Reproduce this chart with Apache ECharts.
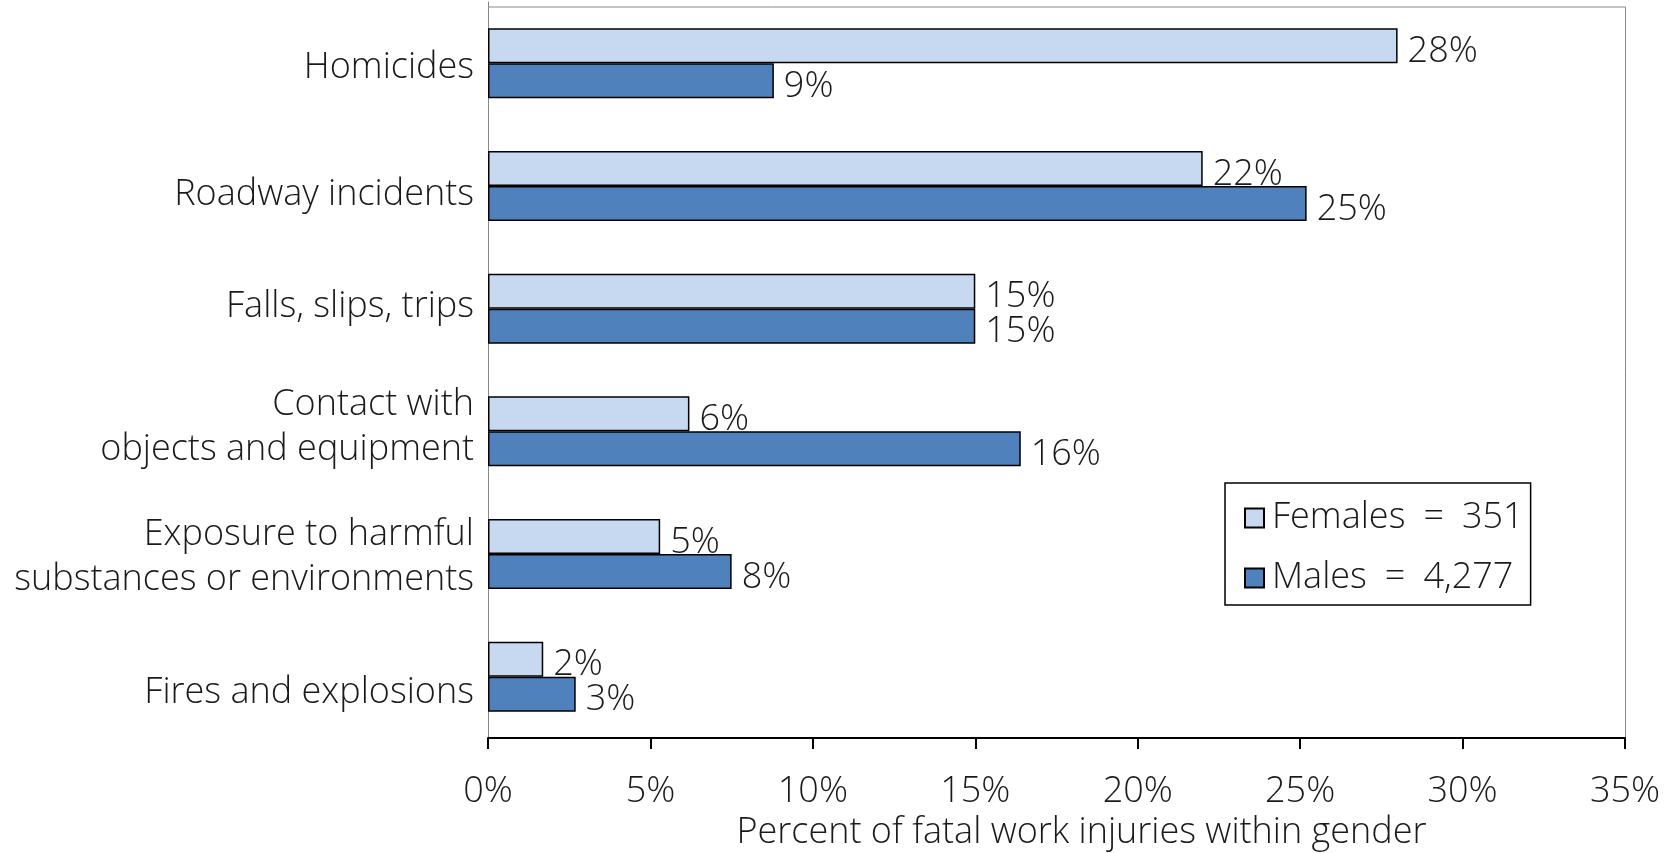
<!DOCTYPE html>
<html>
<head>
<meta charset="utf-8">
<script src="https://cdn.jsdelivr.net/npm/echarts@6/dist/echarts.min.js"></script>
<style>
html,body{margin:0;padding:0;background:#fff;}
#chart{width:1674px;height:853px;}
</style>
</head>
<body>
<div id="chart"></div>
<script>
const categories = [
  "Homicides",
  "Roadway incidents",
  "Falls, slips, trips",
  "Contact with\nobjects and equipment",
  "Exposure to harmful\nsubstances or environments",
  "Fires and explosions"
];
const females = [28.0, 22.0, 15.0, 6.2, 5.3, 1.7];
const males = [8.8, 25.2, 15.0, 16.4, 7.5, 2.7];
const seriesNames = ["Females = 351", "Males = 4,277"];
const xTicks = [0, 5, 10, 15, 20, 25, 30, 35];
const axisTitle = "Percent of fatal work injuries within gender";

const FONT = "'Open Sans', 'DejaVu Sans', sans-serif";
const TXT = "#1a1a1a";
const FS = 36;

// vertical nudges of the category labels (layout only, px; + = down)
const catLabelNudge = [4, 8.5, -2, -4, 3, 16];

const chart = echarts.init(document.getElementById('chart'), null, {renderer: 'canvas'});

const labelOpt = {
  show: true,
  position: 'right',
  distance: 10,
  offset: [0, 6],
  formatter: p => Math.round(p.value) + '%',
  fontFamily: FONT,
  fontWeight: 300,
  fontSize: FS,
  color: TXT
};

const baseTok = {fontFamily: FONT, fontWeight: 300, fontSize: FS, color: TXT, lineHeight: 45, align: 'right'};
const richCat = {m: Object.assign({}, baseTok)};
catLabelNudge.forEach((s, i) => {
  richCat['s' + i] = {fontSize: 1, lineHeight: Math.abs(s) * 2, align: 'right'};
});

function catFormatter(v, i) {
  const body = v.split('\n').map(ln => '{m|' + ln + '}').join('\n');
  const s = catLabelNudge[i];
  if (!s) return body;
  const spacer = '{s' + i + '| }';
  return s > 0 ? spacer + '\n' + body : body + '\n' + spacer;
}

chart.setOption({
  animation: false,
  backgroundColor: '#fff',
  grid: {
    left: 488, right: 49, top: 2, bottom: 115,
    show: false,
    containLabel: false,
    outerBoundsMode: 'none'
  },
  graphic: [{
    type: 'polyline',
    z: 0,
    shape: {points: [[488, 7], [1625.5, 7], [1625.5, 738]]},
    style: {stroke: '#888', lineWidth: 1, fill: null}
  }],
  legend: {
    orient: 'vertical',
    left: 1225, top: 483,
    backgroundColor: '#fff',
    borderColor: '#000',
    borderWidth: 1.5,
    padding: [15, 7, 7, 19],
    itemGap: 20,
    itemWidth: 19,
    itemHeight: 19,
    icon: 'rect',
    formatter: n => n.replace(' = ', '\u2002=\u2002'),
    textStyle: {fontFamily: FONT, fontWeight: 300, fontSize: FS, lineHeight: 40, color: TXT, padding: [0, 0, 0, 3]},
    data: seriesNames
  },
  xAxis: {
    type: 'value',
    min: xTicks[0], max: xTicks[xTicks.length - 1], interval: 5,
    axisLine: {show: true, lineStyle: {color: '#000', width: 2}},
    axisTick: {show: true, length: 11, lineStyle: {color: '#000', width: 2}},
    splitLine: {show: false},
    axisLabel: {
      formatter: v => v + '%',
      fontFamily: FONT, fontWeight: 300, fontSize: FS, color: TXT, margin: 36
    },
    name: axisTitle,
    nameLocation: 'middle',
    nameGap: 75,
    nameTextStyle: {fontFamily: FONT, fontWeight: 300, fontSize: FS, color: TXT, padding: [0, 0, 0, 50]}
  },
  yAxis: {
    type: 'category',
    inverse: true,
    data: categories,
    axisLine: {show: true, lineStyle: {color: '#888', width: 1}},
    axisTick: {show: false},
    axisLabel: {
      fontFamily: FONT, fontWeight: 300, fontSize: FS, color: TXT, margin: 14,
      lineHeight: 45, align: 'right',
      formatter: catFormatter,
      rich: richCat
    }
  },
  series: [
    {
      name: seriesNames[0], type: 'bar', data: females,
      barWidth: 35, barGap: '0%',
      itemStyle: {color: '#C6D9F1', borderColor: '#000', borderWidth: 1.5},
      label: labelOpt
    },
    {
      name: seriesNames[1], type: 'bar', data: males,
      barWidth: 35, barGap: '0%',
      itemStyle: {color: '#4F81BD', borderColor: '#000', borderWidth: 1.5},
      label: labelOpt
    }
  ]
});
</script>
</body>
</html>
